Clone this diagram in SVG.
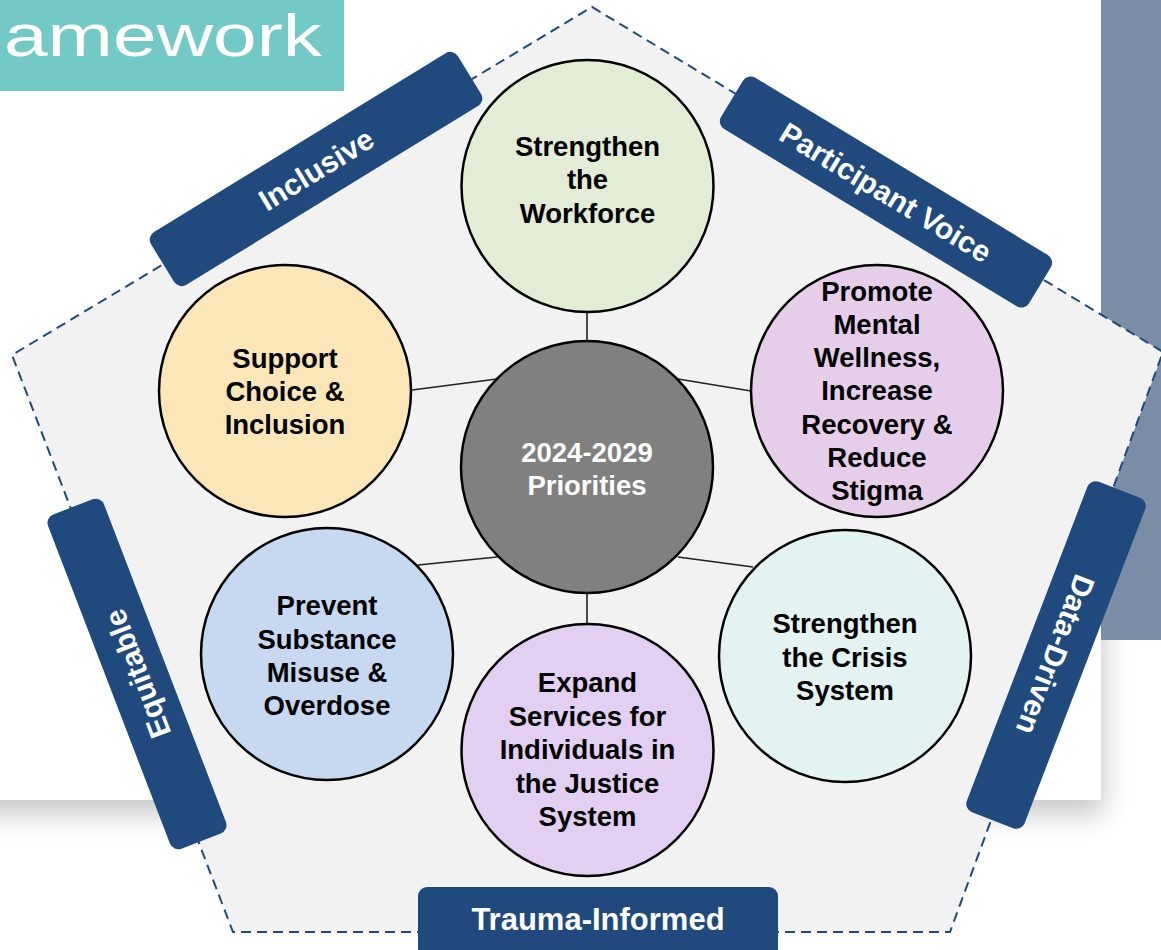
<svg xmlns="http://www.w3.org/2000/svg" width="1161" height="950" viewBox="0 0 1161 950">
<defs>
<filter id="blur" filterUnits="userSpaceOnUse" x="-100" y="-100" width="1400" height="1100">
<feGaussianBlur stdDeviation="14"/>
</filter>
<style>
.node circle{stroke:#000;stroke-width:2.5}
.node text{font-family:"Liberation Sans",Arial,sans-serif;font-weight:bold;font-size:27.5px;fill:#000;text-anchor:middle}
.lab rect{fill:#204A7D}
.lab text{font-family:"Liberation Sans",Arial,sans-serif;font-weight:bold;font-size:30px;fill:#fff;text-anchor:middle}
.conn line{stroke:#222;stroke-width:1.6}
</style>
</defs>
<rect width="1161" height="950" fill="#fff"/>
<!-- card with shadow -->
<rect x="-60" y="-60" width="1164" height="875" fill="#000" opacity="0.21" filter="url(#blur)"/>
<rect x="-60" y="-60" width="1161" height="860" fill="#fff"/>
<!-- side panel -->
<rect x="1101" y="0" width="60" height="640" fill="#7B8CA7"/>
<!-- title -->
<g id="title">
<rect x="0" y="0" width="344" height="91" fill="#72C9C5"/>
<text x="4" y="56" font-family="Liberation Sans,Arial,sans-serif" font-size="60" fill="#fff" textLength="318" lengthAdjust="spacingAndGlyphs">amework</text>
</g>
<!-- pentagon -->
<polygon id="pentagon" points="592,7 1163,352 950,932 233,932 12,355" fill="#F2F2F2" stroke="#204A7D" stroke-width="2" stroke-dasharray="10 6"/>
<!-- labels -->
<g id="lab-inclusive" class="lab" transform="translate(316 169) rotate(-31.5)">
<rect x="-180" y="-31" width="360" height="62" rx="9"/>
<text x="0" y="11">Inclusive</text>
</g>
<g id="lab-participant" class="lab" transform="translate(886 192) rotate(31.2)">
<rect x="-180" y="-30" width="360" height="60" rx="9"/>
<text x="0" y="11">Participant Voice</text>
</g>
<g id="lab-equitable" class="lab" transform="translate(137 674) rotate(-111)">
<rect x="-179" y="-30" width="358" height="60" rx="9"/>
<text x="0" y="11">Equitable</text>
</g>
<g id="lab-datadriven" class="lab" transform="translate(1056 655) rotate(111)">
<rect x="-177" y="-31" width="354" height="62" rx="9"/>
<text x="0" y="11">Data-Driven</text>
</g>
<g id="lab-trauma" class="lab">
<rect x="418" y="887" width="360" height="80" rx="9"/>
<text x="598" y="930" style="font-size:31px">Trauma-Informed</text>
</g>
<!-- connectors -->
<g id="connectors" class="conn">
<line x1="587" y1="312" x2="587" y2="341"/>
<line x1="412" y1="390" x2="497" y2="379"/>
<line x1="678" y1="379" x2="751" y2="391"/>
<line x1="418" y1="565" x2="497" y2="557"/>
<line x1="678" y1="557" x2="753" y2="567"/>
<line x1="587" y1="592" x2="587" y2="624"/>
</g>
<!-- nodes -->
<g id="n-workforce" class="node">
<circle cx="587.5" cy="186" r="126" fill="#E3ECD5"/>
<text x="587.5" y="156">Strengthen</text>
<text x="587.5" y="189">the</text>
<text x="587.5" y="223">Workforce</text>
</g>
<g id="n-promote" class="node">
<circle cx="877" cy="391" r="126" fill="#E6CDEA"/>
<text x="877" y="301">Promote</text>
<text x="877" y="334">Mental</text>
<text x="877" y="367">Wellness,</text>
<text x="877" y="400">Increase</text>
<text x="877" y="434">Recovery &amp;</text>
<text x="877" y="467">Reduce</text>
<text x="877" y="500">Stigma</text>
</g>
<g id="n-crisis" class="node">
<circle cx="845" cy="656" r="126" fill="#E2F3F1"/>
<text x="845" y="633">Strengthen</text>
<text x="845" y="667">the Crisis</text>
<text x="845" y="700">System</text>
</g>
<g id="n-justice" class="node">
<circle cx="587.5" cy="750" r="126" fill="#E2CFF1"/>
<text x="587.5" y="692">Expand</text>
<text x="587.5" y="726">Services for</text>
<text x="587.5" y="759">Individuals in</text>
<text x="587.5" y="793">the Justice</text>
<text x="587.5" y="826">System</text>
</g>
<g id="n-substance" class="node">
<circle cx="327" cy="654" r="126" fill="#C6D9F0"/>
<text x="327" y="615">Prevent</text>
<text x="327" y="649">Substance</text>
<text x="327" y="682">Misuse &amp;</text>
<text x="327" y="715">Overdose</text>
</g>
<g id="n-choice" class="node">
<circle cx="285" cy="391" r="126" fill="#FBE6B7"/>
<text x="285" y="368">Support</text>
<text x="285" y="401">Choice &amp;</text>
<text x="285" y="434">Inclusion</text>
</g>
<g id="n-center" class="node">
<circle cx="587" cy="467" r="126" fill="#808080"/>
<text x="587" y="462" style="fill:#fff">2024-2029</text>
<text x="587" y="495" style="fill:#fff">Priorities</text>
</g>
</svg>
